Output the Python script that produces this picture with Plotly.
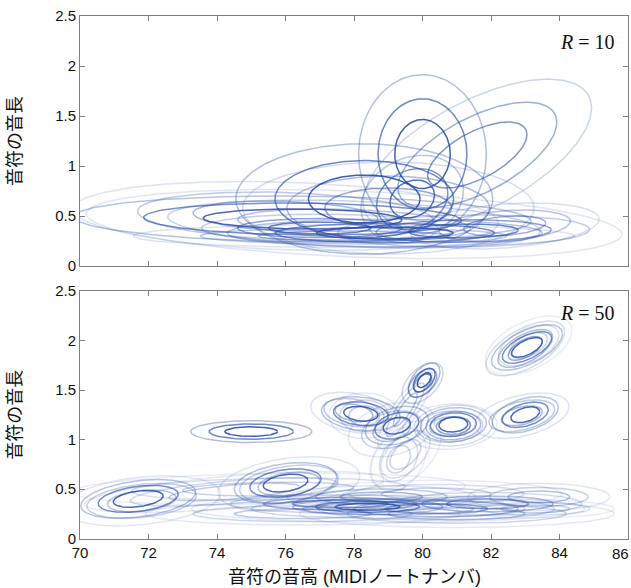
import numpy as np
import plotly.graph_objects as go

# ---------------- data: Gaussian components (mean, std, correlation, weight) ----------------
# Upper panel (R = 10)
top_mx  = [80.0, 81.6, 78.3, 79.7, 76.5, 78.0, 78.9, 81.2, 79.0, 76.0, 78.0, 82.4, 77.0]
top_my  = [1.12, 1.11, 0.67, 0.67, 0.47, 0.42, 0.33, 0.35, 0.58, 0.50, 0.30, 0.40, 0.38]
top_sx  = [0.81, 1.45, 1.63, 0.65, 2.90, 3.40, 2.00, 1.60, 1.85, 2.70, 2.80, 1.20, 1.50]
top_sy  = [0.345, 0.33, 0.24, 0.19, 0.10, 0.15, 0.06, 0.07, 0.20, 0.15, 0.05, 0.10, 0.06]
top_rho = [0.0, 0.62, 0.0, 0.2, -0.1, -0.3, 0.0, 0.1, 0.0, -0.2, 0.0, 0.3, 0.0]
top_w   = [0.90, 0.60, 0.90, 0.80, 0.85, 0.35, 0.85, 0.70, 0.50, 0.40, 0.40, 0.45, 0.70]

# Lower panel (R = 50)
bot_mx  = [75.0, 78.2, 78.0, 78.3, 80.05, 80.0, 79.5, 79.25, 79.1, 80.9, 80.9, 80.8,
           83.0, 82.9, 83.05, 83.0, 83.1, 71.7, 71.8, 76.0, 76.1, 74.5,
           78.4, 77.6, 79.0, 81.9, 83.4, 83.3, 80.4, 76.5, 81.0, 78.8,
           79.5, 79.3, 75.5, 80.4]
bot_my  = [1.08, 1.26, 1.27, 1.24, 1.60, 1.57, 1.30, 1.14, 1.10, 1.15, 1.14, 1.13,
           1.25, 1.24, 1.93, 1.92, 1.95, 0.40, 0.38, 0.56, 0.55, 0.47,
           0.32, 0.35, 0.30, 0.35, 0.42, 0.30, 0.30, 0.25, 0.25, 0.42,
           0.85, 0.80, 0.50, 0.45]
bot_sx  = [0.77, 0.50, 0.55, 0.45, 0.20, 0.26, 0.35, 0.40, 0.55, 0.42, 0.50, 0.60,
           0.42, 0.60, 0.45, 0.50, 0.55, 0.73, 1.00, 0.65, 0.90, 1.90,
           0.95, 1.40, 2.50, 1.20, 0.90, 1.00, 1.50, 2.00, 2.00, 1.20,
           0.45, 0.35, 2.50, 1.60]
bot_sy  = [0.048, 0.075, 0.09, 0.10, 0.075, 0.09, 0.17, 0.085, 0.12, 0.075, 0.09, 0.10,
           0.08, 0.10, 0.10, 0.12, 0.13, 0.085, 0.11, 0.09, 0.12, 0.09,
           0.035, 0.04, 0.06, 0.05, 0.06, 0.04, 0.05, 0.05, 0.06, 0.05,
           0.15, 0.14, 0.07, 0.06]
bot_rho = [0.0, -0.2, -0.3, 0.0, 0.5, 0.5, 0.85, 0.3, 0.3, 0.1, 0.1, 0.1,
           0.4, 0.4, 0.6, 0.6, 0.5, 0.35, 0.3, 0.3, 0.3, 0.6,
           0.0, 0.0, 0.0, 0.0, 0.0, 0.0, 0.0, 0.0, 0.0, 0.0,
           0.5, 0.3, 0.2, 0.0]
bot_w   = [0.90, 0.85, 0.40, 0.30, 0.95, 0.60, 0.35, 0.85, 0.35, 0.85, 0.50, 0.30,
           0.85, 0.40, 0.85, 0.50, 0.25, 0.85, 0.35, 0.85, 0.35, 0.30,
           0.85, 0.60, 0.30, 0.50, 0.35, 0.25, 0.50, 0.30, 0.30, 0.40,
           0.25, 0.25, 0.25, 0.25]

# contour levels (in standard deviations) and their relative opacity
LEVELS = [1.0, 1.6, 2.3]
LEVEL_ALPHA = [1.0, 0.75, 0.4]

x_ticks = [70, 72, 74, 76, 78, 80, 82, 84, 86]
x_tick_text = ["70", "72", "74", "76", "78", "80", "82", "84", ""]
last_x_label = "86"
y_ticks = [0, 0.5, 1, 1.5, 2, 2.5]
y_tick_text = ["0", "0.5", "1", "1.5", "2", "2.5"]

BLUE = (42, 78, 172)

fig = go.Figure()
t = np.linspace(0, 2 * np.pi, 181)
circle = np.vstack([np.cos(t), np.sin(t)])


def add_components(mx, my, sx, sy, rho, w, xa, ya):
    for i in range(len(mx)):
        cov = np.array([[sx[i] ** 2, rho[i] * sx[i] * sy[i]],
                        [rho[i] * sx[i] * sy[i], sy[i] ** 2]])
        L = np.linalg.cholesky(cov)
        for k, la in zip(LEVELS, LEVEL_ALPHA):
            pts = k * (L @ circle)
            a = w[i] * la
            fig.add_trace(go.Scatter(
                x=mx[i] + pts[0], y=my[i] + pts[1], mode="lines",
                line=dict(color=f"rgba({BLUE[0]},{BLUE[1]},{BLUE[2]},{a:.3f})", width=1.5),
                xaxis=xa, yaxis=ya, showlegend=False, hoverinfo="skip"))


add_components(top_mx, top_my, top_sx, top_sy, top_rho, top_w, "x", "y")
add_components(bot_mx, bot_my, bot_sx, bot_sy, bot_rho, bot_w, "x2", "y2")

W, H = 631, 588
xdom = [80 / W, 628 / W]
top_dom = [(H - 266) / H, (H - 16) / H]
bot_dom = [(H - 538.5) / H, (H - 291) / H]

axis_common = dict(showline=True, linecolor="#7f7f7f", linewidth=1, mirror="ticks",
                   ticks="inside", ticklen=5, tickcolor="#7f7f7f", showgrid=False,
                   zeroline=False, automargin=False,
                   tickfont=dict(family="Liberation Sans, Arial", size=15, color="#111"))

fig.update_layout(
    width=W, height=H, margin=dict(l=0, r=0, t=0, b=0, autoexpand=False),
    paper_bgcolor="white", plot_bgcolor="white", showlegend=False,
    xaxis=dict(domain=xdom, range=[70, 86], anchor="y", tickvals=x_ticks,
               showticklabels=False, **axis_common),
    yaxis=dict(domain=top_dom, range=[0, 2.5], anchor="x", tickvals=y_ticks,
               ticktext=y_tick_text, **axis_common),
    xaxis2=dict(domain=xdom, range=[70, 86], anchor="y2", tickvals=x_ticks,
                ticktext=x_tick_text, **axis_common),
    yaxis2=dict(domain=bot_dom, range=[0, 2.5], anchor="x2", tickvals=y_ticks,
                ticktext=y_tick_text, **axis_common),
)

title_font = dict(family="Liberation Sans, Noto Sans CJK JP", size=18, color="#111")
ann = [
    dict(text="音符の音高 (MIDIノートナンバ)", x=354 / W, y=(H - 577) / H,
         xref="paper", yref="paper", showarrow=False, font=title_font,
         xanchor="center", yanchor="middle"),
    dict(text="音符の音長", x=15 / W, y=(H - 141) / H, xref="paper", yref="paper",
         showarrow=False, font=title_font, textangle=-90,
         xanchor="center", yanchor="middle"),
    dict(text="音符の音長", x=15 / W, y=(H - 414.75) / H, xref="paper", yref="paper",
         showarrow=False, font=title_font, textangle=-90,
         xanchor="center", yanchor="middle"),
    dict(text=last_x_label, x=1.0, y=(H - 553) / H, xref="paper", yref="paper",
         showarrow=False, xanchor="right", yanchor="middle",
         font=dict(family="Liberation Sans, Arial", size=15, color="#111")),
    dict(text="<i>R</i> = 10", x=617 / W, y=(H - 42) / H, xref="paper", yref="paper",
         showarrow=False, xanchor="right", yanchor="middle",
         font=dict(family="Liberation Serif, DejaVu Serif", size=20, color="#111")),
    dict(text="<i>R</i> = 50", x=617 / W, y=(H - 313) / H, xref="paper", yref="paper",
         showarrow=False, xanchor="right", yanchor="middle",
         font=dict(family="Liberation Serif, DejaVu Serif", size=20, color="#111")),
]
fig.update_layout(annotations=ann)

fig.write_html("out.html", config={"displayModeBar": False},
               post_script="document.body.style.margin='0';document.body.style.overflow='hidden';")
